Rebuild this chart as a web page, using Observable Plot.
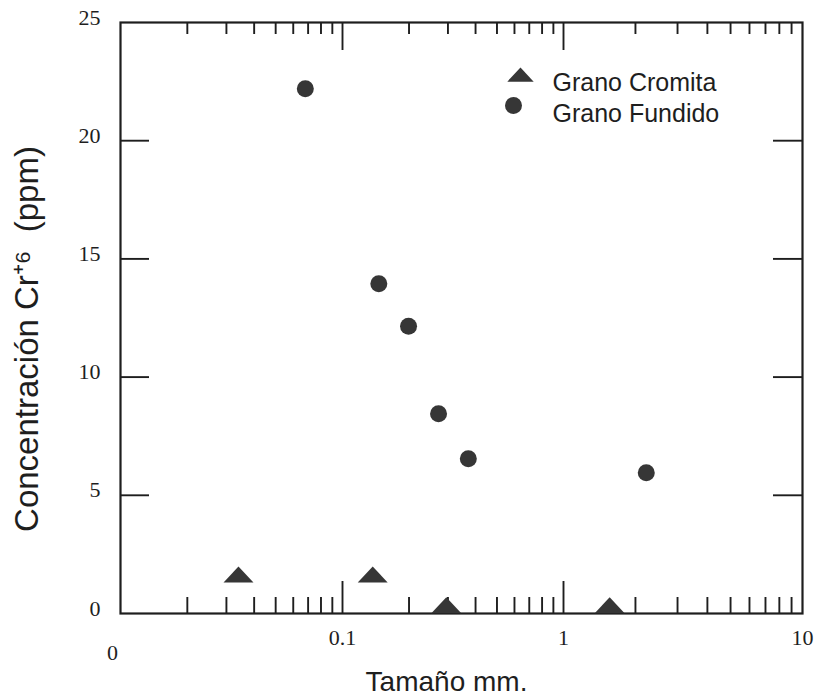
<!DOCTYPE html>
<html>
<head>
<meta charset="utf-8">
<script src="https://cdn.jsdelivr.net/npm/d3@7"></script>
<script src="https://cdn.jsdelivr.net/npm/@observablehq/plot@0.6"></script>
<style>
  html, body { margin: 0; padding: 0; background: #fff; }
  #chart svg { display: block; }
</style>
</head>
<body>
<div id="chart"></div>
<script>
// ---- Data ----
const seriesNames = ["Grano Cromita", "Grano Fundido"];

const cromitaSize = [0.034, 0.137, 0.295, 1.56];   // mm
const cromitaConc = [1.65, 1.65, 0.35, 0.35];      // ppm

const fundidoSize = [0.068, 0.146, 0.199, 0.272, 0.371, 2.22];
const fundidoConc = [22.2, 13.95, 12.15, 8.45, 6.55, 5.95];

// ---- Axis ticks ----
const xLabelValues = [0.01, 0.1, 1, 10];
const xLabelTexts  = ["0", "0.1", "1", "10"];
const xMajorTicks  = [0.1, 1];
const xMinorTicks  = [0.02,0.03,0.04,0.05,0.06,0.07,0.08,0.09,
                      0.2,0.3,0.4,0.5,0.6,0.7,0.8,0.9,
                      2,3,4,5,6,7,8,9];
const yLabelValues = [0, 5, 10, 15, 20, 25];
const yInnerTicks  = [5, 10, 15, 20];

const xTitle = "Tamaño mm.";
const yTitle = "Concentración Cr⁺⁶  (ppm)";

// ---- Build tables ----
const cromita = cromitaSize.map((x, i) => ({x, y: cromitaConc[i]}));
const fundido = fundidoSize.map((x, i) => ({x, y: fundidoConc[i]}));

// Flattened triangle symbol
const flatTriangle = {
  draw(context, size) {
    const r = Math.sqrt(size / Math.PI);
    const hw = r * 1.76, hh = r * 0.95;
    context.moveTo(-hw, hh);
    context.lineTo(0, -hh);
    context.lineTo(hw, hh);
    context.closePath();
  }
};

const W = 814, H = 700;
const mL = 120, mR = 12, mT = 22, mB = 87;
const innerW = W - mL - mR, innerH = H - mT - mB;
const ink = "#1e1e1e";
const markFill = "#363636";
const serif = "Liberation Serif, Times New Roman, serif";
const tickW = 1.9;

const chart = Plot.plot({
  width: W,
  height: H,
  marginLeft: mL, marginRight: mR, marginTop: mT, marginBottom: mB,
  style: {fontFamily: "Liberation Sans, Arial, sans-serif", background: "#fff", color: ink},
  x: {type: "log", domain: [0.01, 0.1, 1, 10], range: [mL, 342, 563, W - mR], axis: null},
  y: {domain: [0, 25], axis: null},
  marks: [
    Plot.frame({stroke: ink, strokeWidth: 2.2}),
    // bottom ticks (inward)
    Plot.tickX(xMinorTicks, {x: d => d, insetTop: innerH - 16, stroke: ink, strokeWidth: tickW}),
    Plot.tickX(xMajorTicks, {x: d => d, insetTop: innerH - 32, stroke: ink, strokeWidth: tickW}),
    // top ticks (inward)
    Plot.tickX(xMinorTicks, {x: d => d, insetBottom: innerH - 12, stroke: ink, strokeWidth: tickW}),
    Plot.tickX(xMajorTicks, {x: d => d, insetBottom: innerH - 28, stroke: ink, strokeWidth: tickW}),
    // left & right ticks (inward)
    Plot.tickY(yInnerTicks, {y: d => d, insetRight: innerW - 29, stroke: ink, strokeWidth: tickW}),
    Plot.tickY(yInnerTicks, {y: d => d, insetLeft: innerW - 29, stroke: ink, strokeWidth: tickW}),
    // y tick labels
    Plot.text(yLabelValues, {y: d => d, text: d => String(d), frameAnchor: "left", dx: -20, dy: -5,
      textAnchor: "end", fontFamily: serif, fontSize: 22, fill: ink}),
    // x tick labels
    Plot.text(xLabelValues.slice(1), {x: d => d, text: (d, i) => xLabelTexts[i + 1], frameAnchor: "bottom",
      textAnchor: "middle", dy: 31, fontFamily: serif, fontSize: 22, fill: ink}),
    Plot.text(xLabelValues.slice(0, 1), {x: d => d, text: (d, i) => xLabelTexts[i], frameAnchor: "bottom",
      textAnchor: "middle", dx: -8, dy: 46, fontFamily: serif, fontSize: 22, fill: ink}),
    // axis titles
    Plot.text([xTitle], {text: d => d, frameAnchor: "bottom", textAnchor: "middle", dx: -15, dy: 77, fontSize: 28, fill: ink}),
    Plot.text([yTitle], {text: d => d, frameAnchor: "left", textAnchor: "middle", dx: -93, dy: 21, rotate: -90, fontSize: 33, fill: ink}),
    // data
    Plot.dot(fundido, {x: "x", y: "y", r: 8.5, fill: markFill, stroke: "none", symbol: "circle"}),
    Plot.dot(cromita, {x: "x", y: "y", r: 8.5, fill: markFill, stroke: "none", symbol: flatTriangle}),
    // legend
    Plot.dot([seriesNames[0]], {frameAnchor: "top-left", dx: 400, dy: 52, r: 7.5, fill: markFill, stroke: "none", symbol: flatTriangle}),
    Plot.dot([seriesNames[1]], {frameAnchor: "top-left", dx: 393, dy: 83, r: 8.5, fill: markFill, stroke: "none", symbol: "circle"}),
    Plot.text([seriesNames[0]], {text: d => d, frameAnchor: "top-left", dx: 432, dy: 51, textAnchor: "start", fontSize: 25, fill: ink}),
    Plot.text([seriesNames[1]], {text: d => d, frameAnchor: "top-left", dx: 432, dy: 82, textAnchor: "start", fontSize: 25, fill: ink})
  ]
});

document.getElementById("chart").appendChild(chart);
</script>
</body>
</html>
